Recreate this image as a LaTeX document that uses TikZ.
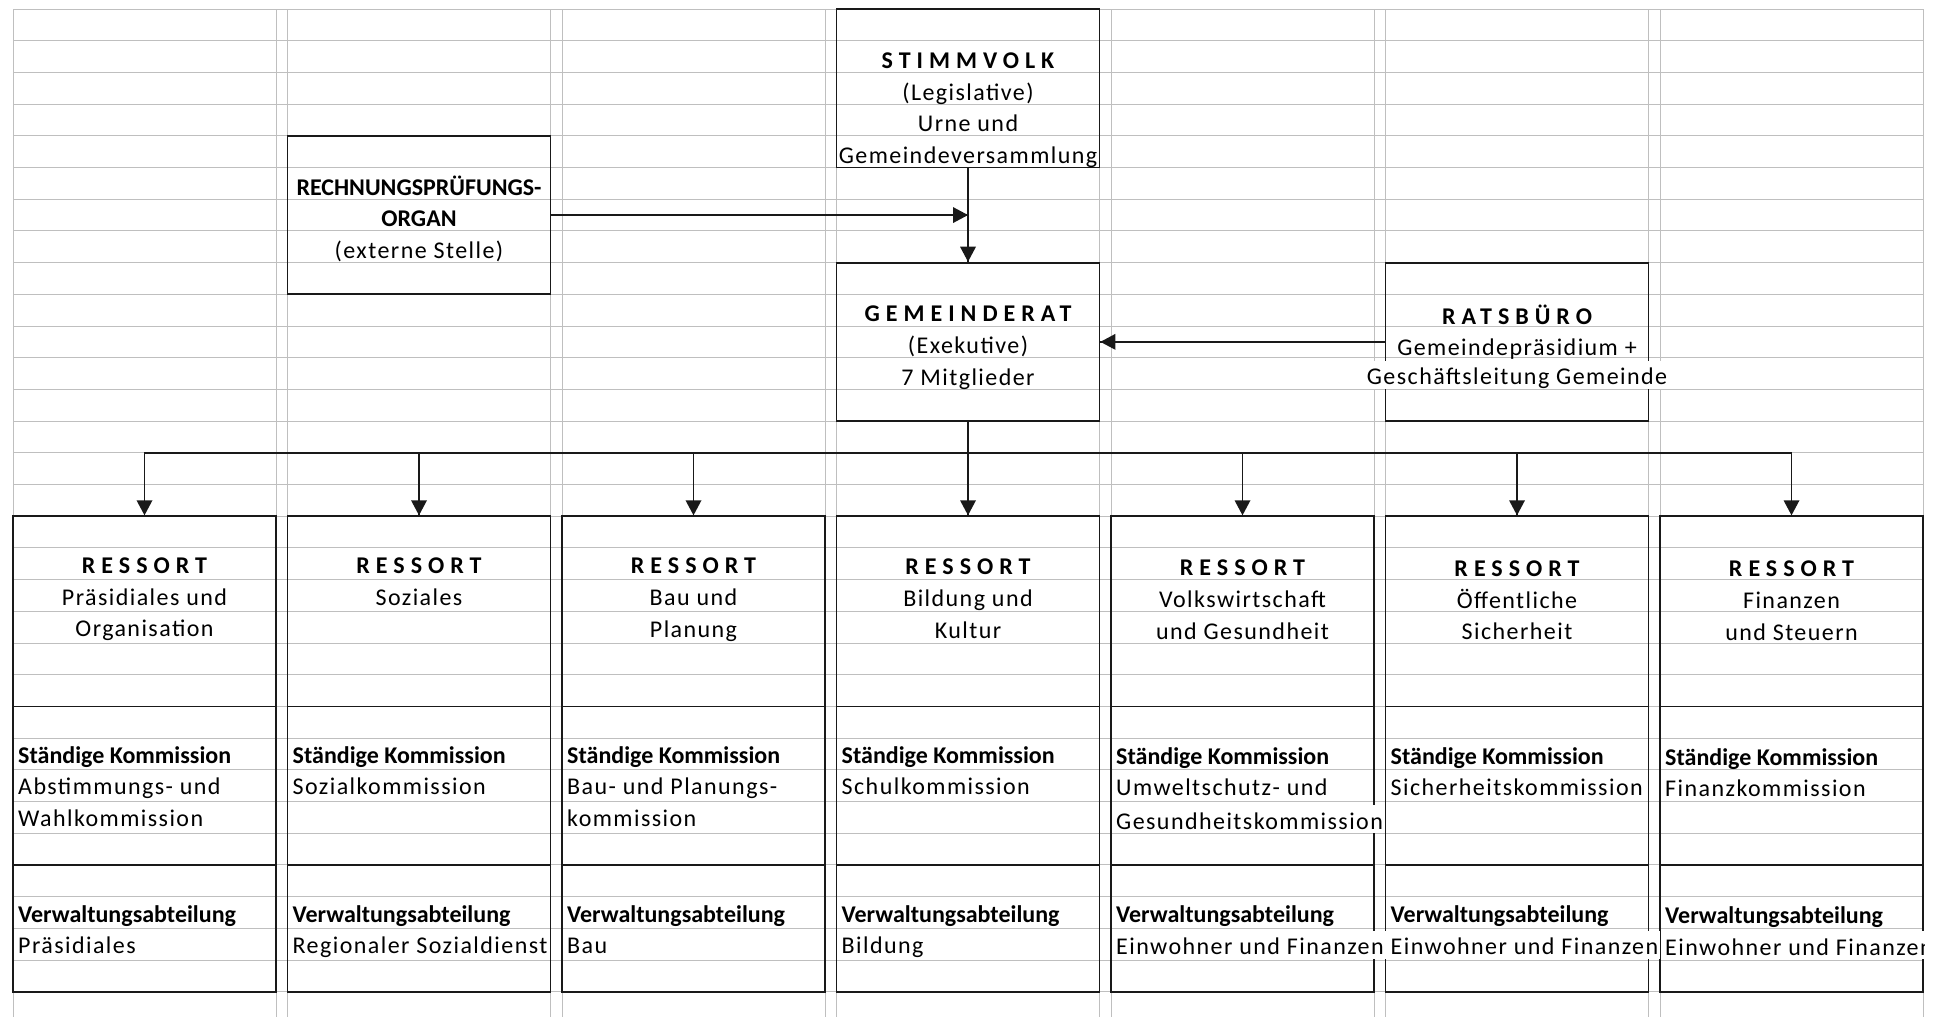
\documentclass[tikz,border=0pt]{standalone}
\usepackage{fontspec}
\setmainfont{Carlito}[LetterSpace=6]
\newfontfamily\fett{Carlito}
\newfontfamily\kopf{Carlito}[LetterSpace=25]

\begin{document}
\begin{tikzpicture}[x=1pt,y=-1pt]
	\tikzstyle{every node}+=[inner sep=0pt, font=\fontsize{24}{31.7}\selectfont]
	\tikzstyle{raster}=[black!25, line width=1pt]
	\tikzstyle{kasten}=[draw=black!90, line width=1.8pt, minimum width=263pt]
	\tikzstyle{linie}=[black!90, line width=1.8pt]
	\tikzstyle{mitte}=[anchor=north, align=center, execute at begin node=\strut]
	\tikzstyle{links}=[anchor=north west, align=left, execute at begin node=\strut]
	\tikzstyle{ueber}=[anchor=base west, fill=white, inner xsep=2pt, text height=23.7pt, text depth=4.4pt]
	\useasboundingbox (0,0) rectangle (1942,1017);
	% Tabellenraster
	\foreach \k in {0,...,31}
		\draw [raster] (13,9+31.7*\k) -- (1923,9+31.7*\k);
	\foreach \x in {13,276,287.5,550.5,562,825,836.5,1099.5,1111,1374,1385.5,1648.5,1660,1923}
		\draw [raster] (\x,9) -- (\x,1017);
	% Kaesten oben
	\node [kasten, minimum height=158.5pt] (volk) at (968,88.25) {};
	\node [kasten, minimum height=158.5pt] (rpo) at (419,215.05) {};
	\node [kasten, minimum height=158.5pt] (rat) at (968,341.85) {};
	\node [kasten, minimum height=158.5pt] (buero) at (1517,341.85) {};
	% Ressorts
	\node [kasten, minimum height=190.2pt] (r1) at (144.5,611.3) {};
	\node [kasten, minimum height=190.2pt] (r2) at (419,611.3) {};
	\node [kasten, minimum height=190.2pt] (r3) at (693.5,611.3) {};
	\node [kasten, minimum height=190.2pt] (r4) at (968,611.3) {};
	\node [kasten, minimum height=190.2pt] (r5) at (1242.5,611.3) {};
	\node [kasten, minimum height=190.2pt] (r6) at (1517,611.3) {};
	\node [kasten, minimum height=190.2pt] (r7) at (1791.5,611.3) {};
	\node [kasten, minimum height=158.5pt] (k1) at (144.5,785.65) {};
	\node [kasten, minimum height=158.5pt] (k2) at (419,785.65) {};
	\node [kasten, minimum height=158.5pt] (k3) at (693.5,785.65) {};
	\node [kasten, minimum height=158.5pt] (k4) at (968,785.65) {};
	\node [kasten, minimum height=158.5pt] (k5) at (1242.5,785.65) {};
	\node [kasten, minimum height=158.5pt] (k6) at (1517,785.65) {};
	\node [kasten, minimum height=158.5pt] (k7) at (1791.5,785.65) {};
	\node [kasten, minimum height=126.8pt] (v1) at (144.5,928.3) {};
	\node [kasten, minimum height=126.8pt] (v2) at (419,928.3) {};
	\node [kasten, minimum height=126.8pt] (v3) at (693.5,928.3) {};
	\node [kasten, minimum height=126.8pt] (v4) at (968,928.3) {};
	\node [kasten, minimum height=126.8pt] (v5) at (1242.5,928.3) {};
	\node [kasten, minimum height=126.8pt] (v6) at (1517,928.3) {};
	\node [kasten, minimum height=126.8pt] (v7) at (1791.5,928.3) {};
	% Pfeile
	\coordinate (treff) at (rpo.east -| volk.south);
	\coordinate (bus) at (968,452.8);
	\draw [linie] (volk.south) -- (rat.north);
	\draw [linie] (rpo.east) -- (treff);
	\draw [linie] (buero.west) -- (rat.east);
	\draw [linie] (rat.south) -- (r4.north);
	\draw [linie] (r1.north) -- (r1.north |- bus) -- (r7.north |- bus) -- (r7.north);
	\draw [linie] (r2.north |- bus) -- (r2.north) (r3.north |- bus) -- (r3.north)
		(r5.north |- bus) -- (r5.north) (r6.north |- bus) -- (r6.north);
	\fill [black!90] (rat.north) -- ++(-8,-15) -- ++(16,0) -- cycle
		(treff) -- ++(-15,-8) -- ++(0,16) -- cycle
		(rat.east) -- ++(15,-8) -- ++(0,16) -- cycle
		(r1.north) -- ++(-8,-15) -- ++(16,0) -- cycle
		(r2.north) -- ++(-8,-15) -- ++(16,0) -- cycle
		(r3.north) -- ++(-8,-15) -- ++(16,0) -- cycle
		(r4.north) -- ++(-8,-15) -- ++(16,0) -- cycle
		(r5.north) -- ++(-8,-15) -- ++(16,0) -- cycle
		(r6.north) -- ++(-8,-15) -- ++(16,0) -- cycle
		(r7.north) -- ++(-8,-15) -- ++(16,0) -- cycle;
	% Texte
	\node [mitte] (volk-t) at (968,52.5) {{\kopf\bfseries STIMMVOLK}\\(Legislative)\\Urne und\\Gemeindeversammlung};
	\node [mitte] (rpo-t) at (419,175.5) {{\fett\bfseries RECHNUNGSPRÜFUNGS-}\\{\fett\bfseries ORGAN}\\(externe Stelle)};
	\node [mitte] (rat-t) at (968,306) {{\kopf\bfseries GEMEINDERAT}\\(Exekutive)\\7 Mitglieder};
	\node [mitte] (buero-t) at (1517,304.5) {{\kopf\bfseries RATSBÜRO}\\Gemeindepräsidium +};
	\node [ueber, anchor=base] (buero-u) at (1517,384.5) {Geschäftsleitung Gemeinde};
	\node [mitte] (r1-t) at (144.5,557.5) {{\kopf\bfseries RESSORT}\\Präsidiales und\\Organisation};
	\node [mitte] (r2-t) at (419,557.5) {{\kopf\bfseries RESSORT}\\Soziales};
	\node [mitte] (r3-t) at (693.5,558) {{\kopf\bfseries RESSORT}\\Bau und\\Planung};
	\node [mitte] (r4-t) at (968,559) {{\kopf\bfseries RESSORT}\\Bildung und\\Kultur};
	\node [mitte] (r5-t) at (1242.5,560) {{\kopf\bfseries RESSORT}\\Volkswirtschaft\\und Gesundheit};
	\node [mitte] (r6-t) at (1517,560.5) {{\kopf\bfseries RESSORT}\\Öffentliche\\Sicherheit};
	\node [mitte] (r7-t) at (1791.5,561) {{\kopf\bfseries RESSORT}\\Finanzen\\und Steuern};
	\node [links] (k1-t) at (18,746) {{\fett\bfseries Ständige Kommission}\\Abstimmungs- und\\Wahlkommission};
	\node [links] (k2-t) at (292.5,746) {{\fett\bfseries Ständige Kommission}\\Sozialkommission};
	\node [links] (k3-t) at (567,746) {{\fett\bfseries Ständige Kommission}\\Bau- und Planungs-\\kommission};
	\node [links] (k4-t) at (841.5,746) {{\fett\bfseries Ständige Kommission}\\Schulkommission};
	\node [links] (k5-t) at (1116,747) {{\fett\bfseries Ständige Kommission}\\Umweltschutz- und};
	\node [ueber] (k5-u) at (1114,829) {Gesundheitskommission};
	\node [links] (k6-t) at (1390.5,747) {{\fett\bfseries Ständige Kommission}\\Sicherheitskommission};
	\node [links] (k7-t) at (1665,748) {{\fett\bfseries Ständige Kommission}\\Finanzkommission};
	\node [links] (v1-t) at (18,899.9) {\fett\bfseries Verwaltungsabteilung};
	\node [links] (v2-t) at (292.5,899.9) {\fett\bfseries Verwaltungsabteilung};
	\node [links] (v3-t) at (567,899.9) {\fett\bfseries Verwaltungsabteilung};
	\node [links] (v4-t) at (841.5,899.9) {\fett\bfseries Verwaltungsabteilung};
	\node [links] (v5-t) at (1116,900.5) {\fett\bfseries Verwaltungsabteilung};
	\node [links] (v6-t) at (1390.5,900.5) {\fett\bfseries Verwaltungsabteilung};
	\node [links] (v7-t) at (1665,901.5) {\fett\bfseries Verwaltungsabteilung};
	\node [ueber] (v1-u) at (16,953.8) {Präsidiales};
	\node [ueber] (v2-u) at (290.5,953.8) {Regionaler Sozialdienst};
	\node [ueber] (v3-u) at (565,953.8) {Bau};
	\node [ueber] (v4-u) at (839.5,953.8) {Bildung};
	\node [ueber] (v5-u) at (1114,954.5) {Einwohner und Finanzen};
	\node [ueber] (v6-u) at (1388.5,954.5) {Einwohner und Finanzen};
	\begin{scope}
		\clip (v7.north west) rectangle ([xshift=1pt]v7.south east);
		\node [ueber] (v7-u) at (1663,955) {Einwohner und Finanzen};
	\end{scope}
\end{tikzpicture}
\end{document}
